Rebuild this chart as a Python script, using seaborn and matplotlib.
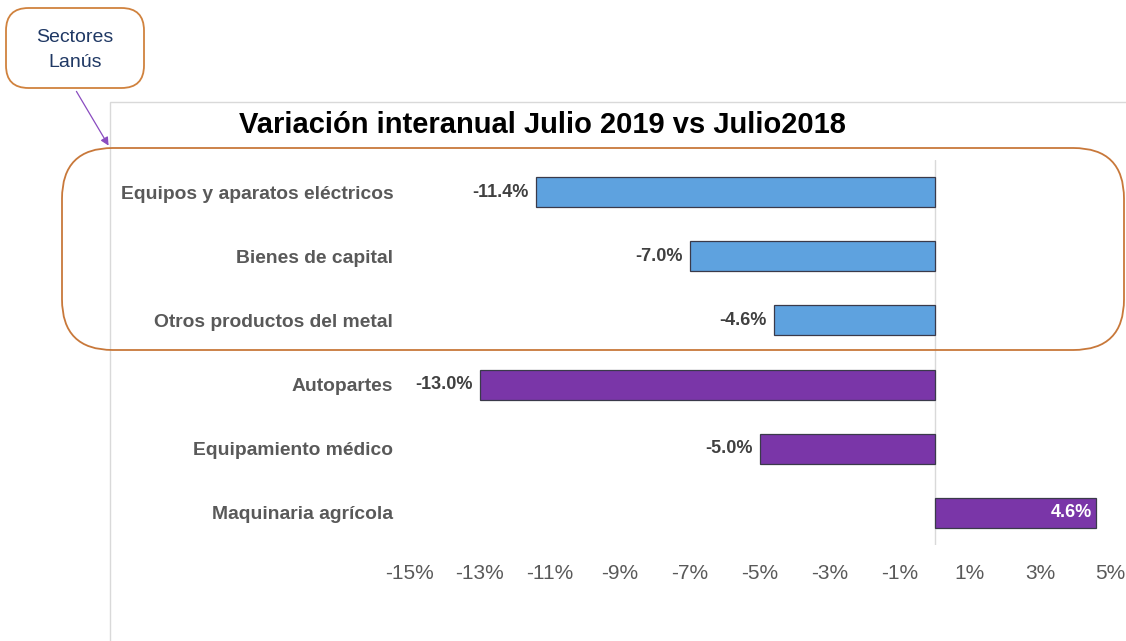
#!/usr/bin/python3
import seaborn as sns
import pandas as pd
import matplotlib.pyplot as plt
from matplotlib.patches import FancyBboxPatch, Rectangle, FancyArrowPatch

sns.set_theme(style="white")
plt.rcParams['font.family'] = ['Liberation Sans', 'DejaVu Sans']

# data
sectores = ["Equipos y aparatos eléctricos", "Bienes de capital", "Otros productos del metal",
            "Autopartes", "Equipamiento médico", "Maquinaria agrícola"]
variacion = [-11.4, -7.0, -4.6, -13.0, -5.0, 4.6]
grupo = ["Lanús", "Lanús", "Lanús", "Otros", "Otros", "Otros"]
ticks = [-15, -13, -11, -9, -7, -5, -3, -1, 1, 3, 5]

W, H = 1126, 641
fig = plt.figure(figsize=(W / 100, H / 100), dpi=100)

def px(x, y):
  # pixel (from top-left) -> figure fraction
  return x / W, 1 - y / H

ax = fig.add_axes([410 / W, 1 - 545 / H, 700 / W, 385 / H])

df = pd.DataFrame({'sector': sectores, 'variacion': variacion, 'grupo': grupo})
sns.barplot(data=df, x='variacion', y='sector', hue='grupo', dodge=False, legend=False,
            palette={'Lanús': '#5ea2df', 'Otros': '#7a36a8'}, saturation=1,
            width=0.47, edgecolor='#3a3a4a', linewidth=0.9, ax=ax)

ax.set_xlim(-15, 5)
ax.set_xticks(ticks)
ax.set_xticklabels([f"{t}%" for t in ticks])
ax.axvline(0, color='#d9d9d9', lw=1, zorder=0)
ax.set_xlabel('')
ax.set_ylabel('')
for s in ax.spines.values():
  s.set_visible(False)
ax.tick_params(axis='x', labelsize=15, labelcolor='#595959', pad=14, length=0)
ax.tick_params(axis='y', labelsize=13.9, labelcolor='#595959', pad=12, length=0)
for lab in ax.get_yticklabels():
  lab.set_fontweight('bold')

# value labels
for i, v in enumerate(variacion):
  if v < 0:
    ax.annotate(f"{v:.1f}%", (v, i), xytext=(-5, 0), textcoords='offset points',
                ha='right', va='center', fontsize=13, fontweight='bold', color='#404040')
  else:
    ax.annotate(f"{v:.1f}%", (v, i), xytext=(-3, 0), textcoords='offset points',
                ha='right', va='center', fontsize=13, fontweight='bold', color='white')

# chart area frame
x0, y0 = px(110, 102)
fig.add_artist(Rectangle((x0, 1 - 700 / H), 1.2, y0 - (1 - 700 / H), transform=fig.transFigure,
                         fill=False, edgecolor='#d9d9d9', lw=1))

fig.text(px(542, 125)[0], px(542, 125)[1], "Variación interanual Julio 2019 vs Julio2018",
         ha='center', va='center', fontsize=21, fontweight='bold', color='black')

# rounded box around Lanús sectors
bx0, by0 = px(62, 350)
bx1, by1 = px(1124, 148)
fig.add_artist(FancyBboxPatch((bx0, by0), bx1 - bx0, by1 - by0,
                              boxstyle="round,pad=0,rounding_size=0.045",
                              mutation_aspect=W / H,
                              transform=fig.transFigure, fill=False,
                              edgecolor='#c8783a', lw=1.3))

# callout
cx0, cy0 = px(6, 88)
cx1, cy1 = px(144, 8)
fig.add_artist(FancyBboxPatch((cx0, cy0), cx1 - cx0, cy1 - cy0,
                              boxstyle="round,pad=0,rounding_size=0.02",
                              mutation_aspect=W / H,
                              transform=fig.transFigure, facecolor='white',
                              edgecolor='#d0823e', lw=1.3))
fig.text(px(75, 50)[0], px(75, 50)[1], "Sectores\nLanús", ha='center', va='center',
         fontsize=14, color='#1f3864', linespacing=1.55)
fig.add_artist(FancyArrowPatch(px(75, 89), px(110, 148), transform=fig.transFigure,
                               arrowstyle='-|>', mutation_scale=12, color='#8a4cc0', lw=0.9))

plt.savefig('out.png', dpi=100)
